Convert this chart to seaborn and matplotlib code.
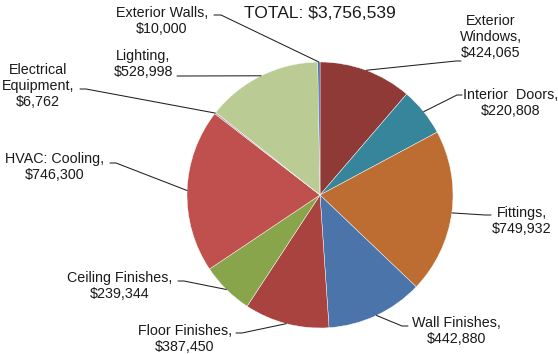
import matplotlib
matplotlib.use("Agg")
import matplotlib.pyplot as plt
from matplotlib.lines import Line2D
import seaborn as sns
import numpy as np

# cost breakdown, clockwise from 12 o'clock
categories = ["Exterior\nWindows,", "Interior  Doors,", "Fittings,", "Wall Finishes,",
              "Floor Finishes,", "Ceiling Finishes,", "HVAC: Cooling,",
              "Electrical\nEquipment,", "Lighting,", "Exterior Walls,"]
costs = [424065, 220808, 749932, 442880, 387450, 239344, 746300, 6762, 528998, 10000]
colors = ["#8F3A37", "#37859A", "#BD6D31", "#4A74AA", "#A84340",
          "#88A54B", "#C0504D", "#9E8FB5", "#BACC94", "#3B6AA0"]

# label layout in pixels from the top-left corner: text centre and leader stub
label_pos = [(491, 37), (511, 103), (522, 221), (456, 331), (185, 339),
             (120, 286), (55, 167), (38, 86), (143, 64), (162, 21)]
stubs = [((461, 61), (456, 61)), ((462, 95), (457, 95)), ((491, 215), (485, 215)),
         ((408, 326), (402, 326)), ((236, 333), (242, 333)), ((178, 281), (184, 281)),
         ((110, 163), (116, 163)), ((80, 89), (86, 89)), ((177, 76), (183, 76)),
         ((214, 15), (221, 15))]

sns.set_style("white")
plt.rcParams["font.family"] = ["Liberation Sans", "DejaVu Sans"]

W, H = 558, 354
fig = plt.figure(figsize=(W / 100, H / 100), dpi=100)
cx, cy, r = 320, 195, 133
ax = fig.add_axes([(cx - r) / W, (H - cy - r) / H, 2 * r / W, 2 * r / H])

wedges, _ = ax.pie(costs, colors=colors, startangle=90, counterclock=False,
                   wedgeprops=dict(edgecolor="white", linewidth=0.3))
ax.set_xlim(-1, 1)
ax.set_ylim(-1, 1)
ax.set_aspect("equal")
ax.axis("off")

def px(p):
    return (p[0] / W, 1 - p[1] / H)

to_fig = fig.transFigure.inverted()
for w, name, val, pos, stub in zip(wedges, categories, costs, label_pos, stubs):
    mid = np.deg2rad((w.theta1 + w.theta2) / 2)
    anchor = to_fig.transform(ax.transData.transform((np.cos(mid), np.sin(mid))))
    p0, p1 = px(stub[0]), px(stub[1])
    fig.add_artist(Line2D([p0[0], p1[0], anchor[0]], [p0[1], p1[1], anchor[1]],
                          transform=fig.transFigure, color="#202020", lw=0.75))
    fig.text(*px(pos), f"{name}\n${val:,}", ha="center", va="center",
             multialignment="center", fontsize=10.3, color="#1a1a1a", linespacing=1.2)

fig.text(*px((320, 14)), f"TOTAL: ${sum(costs):,}", ha="center", va="center",
         fontsize=12.6, color="#1a1a1a")

fig.savefig("out.png", dpi=100)
